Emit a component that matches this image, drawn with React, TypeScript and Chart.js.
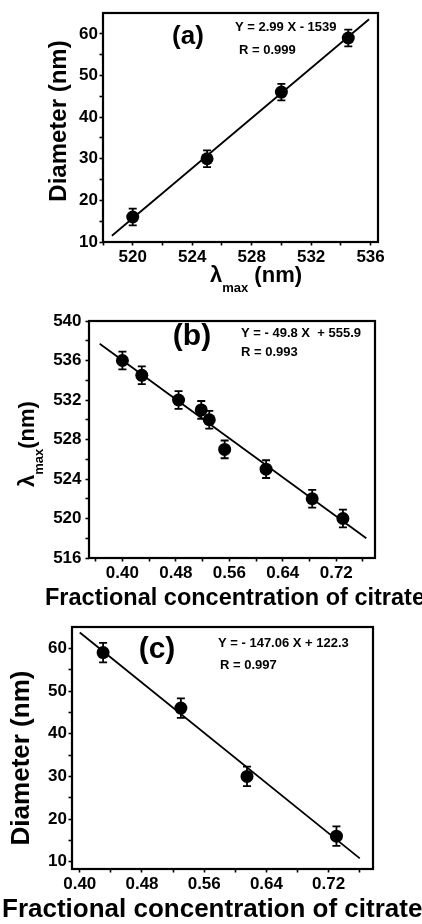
import React, { useEffect, useRef } from "react";
import { Chart, registerables } from "chart.js";

Chart.register(...registerables);

const FONT = "'Liberation Sans', Arial, Helvetica, sans-serif";

// ---------- Panel (a): diameter vs lambda max ----------
const aLambda = [520, 525, 530, 534.5];
const aDiameter = [16, 30, 46, 59];
const aError = [2, 2, 2, 2];
const aFitX = [518.6, 535.9];
const aFitY = [11.5, 63.5];
const aXTicks = [518, 520, 522, 524, 526, 528, 530, 532, 534, 536];
const aXLabels = ["520", "524", "528", "532", "536"];
const aYTicks = [10, 15, 20, 25, 30, 35, 40, 45, 50, 55, 60];
const aYLabels = ["10", "20", "30", "40", "50", "60"];

// ---------- Panel (b): lambda max vs fractional citrate ----------
const bFraction = [0.4, 0.429, 0.484, 0.518, 0.53, 0.553, 0.615, 0.684, 0.73];
const bLambda = [536, 534.5, 532, 531, 530, 527, 525, 522, 520];
const bError = [0.9, 0.9, 0.9, 0.9, 0.9, 0.9, 0.9, 0.9, 0.9];
const bFitX = [0.366, 0.765];
const bFitY = [537.7, 518.0];
const bXTicks = [0.36, 0.4, 0.44, 0.48, 0.52, 0.56, 0.6, 0.64, 0.68, 0.72, 0.76];
const bXLabels = ["0.40", "0.48", "0.56", "0.64", "0.72"];
const bYTicks = [516, 518, 520, 522, 524, 526, 528, 530, 532, 534, 536, 538, 540];
const bYLabels = ["516", "520", "524", "528", "532", "536", "540"];

// ---------- Panel (c): diameter vs fractional citrate ----------
const cFraction = [0.43, 0.53, 0.615, 0.73];
const cDiameter = [59, 46, 30, 16];
const cError = [2.3, 2.3, 2.3, 2.3];
const cFitX = [0.4, 0.76];
const cFitY = [63.7, 10.8];
const cXTicks = [0.4, 0.44, 0.48, 0.52, 0.56, 0.6, 0.64, 0.68, 0.72, 0.76];
const cXLabels = ["0.40", "0.48", "0.56", "0.64", "0.72"];
const cYTicks = [10, 15, 20, 25, 30, 35, 40, 45, 50, 55, 60];
const cYLabels = ["10", "20", "30", "40", "50", "60"];

type Part = { text: string; size: number; dy?: number };
type TextItem = {
  x: number;
  y: number;
  rotate?: boolean;
  align?: "left" | "center";
  baseline?: "middle" | "alphabetic";
  parts: Part[];
};

type PanelProps = {
  top: number;
  height: number;
  area: { left: number; top: number; right: number; bottom: number };
  xRange: [number, number];
  yRange: [number, number];
  xTicks: number[];
  xLabels: string[];
  yTicks: number[];
  yLabels: string[];
  yPad: number;
  px: number[];
  py: number[];
  err: number[];
  fx: number[];
  fy: number[];
  texts: TextItem[];
};

const WIDTH = 422;

function labelFor(v: number, labels: string[]) {
  const f = labels.find((l) => Math.abs(parseFloat(l) - v) < 1e-6);
  return f === undefined ? "" : f;
}

function Panel(props: PanelProps) {
  const ref = useRef<HTMLCanvasElement | null>(null);
  useEffect(() => {
    const canvas = ref.current;
    if (!canvas) return;
    const p = props;
    const tickFont = { family: FONT, size: 17, weight: "bold" as const };
    const decor = {
      id: "decor",
      beforeDatasetsDraw(chart: any) {
        const { ctx } = chart;
        const xs = chart.scales.x;
        const ys = chart.scales.y;
        ctx.save();
        ctx.strokeStyle = "#000";
        ctx.lineWidth = 1.8;
        p.px.forEach((xv, i) => {
          const e = p.err[i];
          const cx = xs.getPixelForValue(xv);
          const y1 = ys.getPixelForValue(p.py[i] + e);
          const y2 = ys.getPixelForValue(p.py[i] - e);
          ctx.beginPath();
          ctx.moveTo(cx, y1);
          ctx.lineTo(cx, y2);
          ctx.moveTo(cx - 4, y1);
          ctx.lineTo(cx + 4, y1);
          ctx.moveTo(cx - 4, y2);
          ctx.lineTo(cx + 4, y2);
          ctx.stroke();
        });
        ctx.restore();
      },
      afterDraw(chart: any) {
        const { ctx, chartArea } = chart;
        ctx.save();
        ctx.strokeStyle = "#000";
        ctx.lineWidth = 2.2;
        ctx.strokeRect(
          chartArea.left,
          chartArea.top,
          chartArea.right - chartArea.left,
          chartArea.bottom - chartArea.top
        );
        ctx.fillStyle = "#000";
        p.texts.forEach((t) => {
          ctx.save();
          ctx.translate(t.x, t.y);
          if (t.rotate) ctx.rotate(-Math.PI / 2);
          ctx.textBaseline = t.baseline || "alphabetic";
          let total = 0;
          t.parts.forEach((pt) => {
            ctx.font = `bold ${pt.size}px ${FONT}`;
            total += ctx.measureText(pt.text).width;
          });
          let cur = t.align === "center" ? -total / 2 : 0;
          ctx.textAlign = "left";
          t.parts.forEach((pt) => {
            ctx.font = `bold ${pt.size}px ${FONT}`;
            ctx.fillText(pt.text, cur, pt.dy || 0);
            cur += ctx.measureText(pt.text).width;
          });
          ctx.restore();
        });
        ctx.restore();
      },
    };

    const chart = new Chart(canvas, {
      type: "scatter",
      data: {
        datasets: [
          {
            data: p.px.map((x, i) => ({ x, y: p.py[i] })),
            pointRadius: 6.5,
            pointBackgroundColor: "#000",
            pointBorderColor: "#000",
            pointBorderWidth: 0,
            showLine: false,
          },
          {
            data: p.fx.map((x, i) => ({ x, y: p.fy[i] })),
            showLine: true,
            pointRadius: 0,
            borderColor: "#000",
            borderWidth: 1.8,
            fill: false,
          },
        ],
      },
      options: {
        animation: false,
        responsive: false,
        events: [],
        layout: {
          padding: {
            left: 0,
            top: p.area.top,
            right: WIDTH - p.area.right,
            bottom: 0,
          },
        },
        plugins: {
          legend: { display: false },
          tooltip: { enabled: false },
        },
        scales: {
          x: {
            type: "linear",
            min: p.xRange[0],
            max: p.xRange[1],
            afterBuildTicks: (s: any) => {
              s.ticks = p.xTicks.map((v) => ({ value: v }));
            },
            afterFit: (s: any) => {
              s.height = p.height - p.area.bottom;
            },
            ticks: {
              autoSkip: false,
              maxRotation: 0,
              padding: 2,
              color: "#000",
              font: tickFont,
              callback: (v: any) => labelFor(Number(v), p.xLabels),
            },
            grid: {
              drawOnChartArea: false,
              drawTicks: true,
              tickLength: 3.5,
              tickColor: "#000",
              tickWidth: 1.6,
            },
            border: { display: false },
          },
          y: {
            type: "linear",
            min: p.yRange[0],
            max: p.yRange[1],
            afterBuildTicks: (s: any) => {
              s.ticks = p.yTicks.map((v) => ({ value: v }));
            },
            afterFit: (s: any) => {
              s.width = p.area.left;
            },
            ticks: {
              autoSkip: false,
              padding: p.yPad,
              color: "#000",
              font: tickFont,
              callback: (v: any) => labelFor(Number(v), p.yLabels),
            },
            grid: {
              drawOnChartArea: false,
              drawTicks: true,
              tickLength: 3.5,
              tickColor: "#000",
              tickWidth: 1.6,
            },
            border: { display: false },
          },
        },
      },
      plugins: [decor],
    } as any);
    return () => chart.destroy();
  }, []);

  return (
    <canvas
      ref={ref}
      width={WIDTH}
      height={props.height}
      style={{
        position: "absolute",
        left: 0,
        top: props.top,
        width: WIDTH,
        height: props.height,
        display: "block",
      }}
    />
  );
}

export default function App() {
  return (
    <div
      style={{
        position: "absolute",
        left: 0,
        top: 0,
        width: WIDTH,
        height: 924,
        background: "#fff",
        overflow: "hidden",
      }}
    >
      <Panel
        top={0}
        height={295}
        area={{ left: 103, top: 13, right: 378, bottom: 242 }}
        xRange={[518, 536.5]}
        yRange={[10, 65]}
        xTicks={aXTicks}
        xLabels={aXLabels}
        yTicks={aYTicks}
        yLabels={aYLabels}
        yPad={1.5}
        px={aLambda}
        py={aDiameter}
        err={aError}
        fx={aFitX}
        fy={aFitY}
        texts={[
          { x: 188, y: 37, align: "center", baseline: "middle", parts: [{ text: "(a)", size: 26 }] },
          { x: 235, y: 27, baseline: "middle", parts: [{ text: "Y = 2.99 X - 1539", size: 13 }] },
          { x: 239, y: 50, baseline: "middle", parts: [{ text: "R = 0.999", size: 13 }] },
          {
            x: 59,
            y: 121,
            rotate: true,
            align: "center",
            baseline: "middle",
            parts: [{ text: "Diameter (nm)", size: 24 }],
          },
          {
            x: 210,
            y: 282,
            parts: [
              { text: "λ", size: 22 },
              { text: "max", size: 13, dy: 10 },
              { text: " (nm)", size: 22 },
            ],
          },
        ]}
      />
      <Panel
        top={295}
        height={315}
        area={{ left: 89, top: 26, right: 375, bottom: 263 }}
        xRange={[0.35, 0.778]}
        yRange={[516, 540]}
        xTicks={bXTicks}
        xLabels={bXLabels}
        yTicks={bYTicks}
        yLabels={bYLabels}
        yPad={4}
        px={bFraction}
        py={bLambda}
        err={bError}
        fx={bFitX}
        fy={bFitY}
        texts={[
          { x: 192, y: 42, align: "center", baseline: "middle", parts: [{ text: "(b)", size: 30 }] },
          { x: 241, y: 38, baseline: "middle", parts: [{ text: "Y = - 49.8 X  + 555.9", size: 13 }] },
          { x: 241, y: 57, baseline: "middle", parts: [{ text: "R = 0.993", size: 13 }] },
          {
            x: 34,
            y: 192,
            rotate: true,
            parts: [
              { text: "λ", size: 22 },
              { text: "max", size: 13, dy: 9 },
              { text: "(nm)", size: 22 },
            ],
          },
          { x: 45, y: 310, parts: [{ text: "Fractional concentration of citrate", size: 23.5 }] },
        ]}
      />
      <Panel
        top={610}
        height={314}
        area={{ left: 72, top: 17, right: 373, bottom: 259 }}
        xRange={[0.39, 0.777]}
        yRange={[8.3, 65]}
        xTicks={cXTicks}
        xLabels={cXLabels}
        yTicks={cYTicks}
        yLabels={cYLabels}
        yPad={1.5}
        px={cFraction}
        py={cDiameter}
        err={cError}
        fx={cFitX}
        fy={cFitY}
        texts={[
          { x: 157, y: 40, align: "center", baseline: "middle", parts: [{ text: "(c)", size: 30 }] },
          { x: 218, y: 33, baseline: "middle", parts: [{ text: "Y = - 147.06 X + 122.3", size: 13 }] },
          { x: 220, y: 55, baseline: "middle", parts: [{ text: "R = 0.997", size: 13 }] },
          {
            x: 22,
            y: 148,
            rotate: true,
            align: "center",
            baseline: "middle",
            parts: [{ text: "Diameter (nm)", size: 26 }],
          },
          { x: 2, y: 307, parts: [{ text: "Fractional concentration of citrate", size: 26 }] },
        ]}
      />
    </div>
  );
}
